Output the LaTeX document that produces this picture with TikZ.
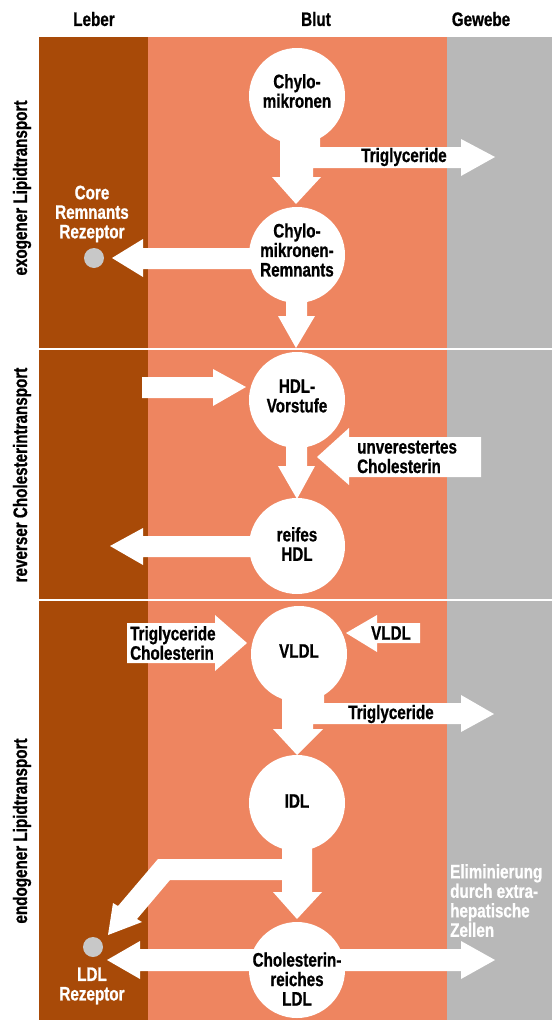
\documentclass[tikz,border=0pt]{standalone}
\usepackage{fontspec}
\setmainfont{Liberation Sans}[FakeStretch=0.78,FakeBold=0.8]
\definecolor{leber}{RGB}{168,74,8}
\definecolor{blut}{RGB}{238,133,96}
\definecolor{gewebe}{RGB}{184,184,184}
\definecolor{dotgray}{RGB}{200,200,200}
\tikzset{
  circ/.style={circle, fill=white, minimum size=96pt, inner sep=0pt},
  lbl/.style={text=black, align=center, inner sep=0pt},
  wlbl/.style={text=white, align=center, inner sep=0pt},
  blockarrow/.style={fill=white, draw=none},
  receptor/.style={circle, fill=dotgray, minimum size=20pt, inner sep=0pt},
  sepline/.style={white, line width=2pt}
}
\begin{document}
\begin{tikzpicture}[x=1pt, y=-1pt, font=\fontsize{19.5}{19.5}\selectfont\bfseries]
\useasboundingbox (0,0) rectangle (552,1020);
\fill[white] (0,0) rectangle (552,1020);
% columns
\fill[leber] (39,37) rectangle (148,1020);
\fill[blut] (148,37) rectangle (447,1020);
\fill[gewebe] (447,37) rectangle (552,1020);
\draw[sepline] (39,349) -- (552,349);
\draw[sepline] (39,600) -- (552,600);
% headers
\node[lbl] (hLeber) at (94,19) {Leber};
\node[lbl] (hBlut) at (316,19) {Blut};
\node[lbl] (hGewebe) at (481,19) {Gewebe};
% side labels
\node[lbl, rotate=90] (sExo) at (22,188) {exogener Lipidtransport};
\node[lbl, rotate=90] (sRev) at (22,475) {reverser Cholesterintransport};
\node[lbl, rotate=90] (sEndo) at (22,831) {endogener Lipidtransport};
% block arrows
\fill[blockarrow] (280,130) -- (320,130) -- (320,147) -- (461,147) -- (461,139) -- (495,157) -- (461,176) -- (461,168) -- (313,168) -- (313,177) -- (321,177) -- (296,204) -- (272,177) -- (280,177) -- cycle;
\fill[blockarrow] (286,290) -- (307,290) -- (307,316) -- (315,316) -- (296,348) -- (278,316) -- (286,316) -- cycle;
\fill[blockarrow] (260,248) -- (143,248) -- (143,239) -- (112,258) -- (143,277) -- (143,269) -- (260,269) -- cycle;
\fill[blockarrow] (142,377) -- (213,377) -- (213,369) -- (246,387) -- (213,406) -- (213,398) -- (142,398) -- cycle;
\fill[blockarrow] (286,440) -- (307,440) -- (307,466) -- (315,466) -- (297,499) -- (278,466) -- (286,466) -- cycle;
\fill[blockarrow] (481,437) -- (349,437) -- (349,428) -- (317,457) -- (349,485) -- (349,477) -- (481,477) -- cycle;
\fill[blockarrow] (260,536) -- (143,536) -- (143,528) -- (110,546) -- (143,565) -- (143,557) -- (260,557) -- cycle;
\fill[blockarrow] (127,623) -- (215,623) -- (215,615) -- (247,643) -- (215,671) -- (215,663) -- (127,663) -- cycle;
\fill[blockarrow] (420,623) -- (377,623) -- (377,615) -- (346,633) -- (377,652) -- (377,643) -- (420,643) -- cycle;
\fill[blockarrow] (282,690) -- (324,690) -- (324,703) -- (461,703) -- (461,695) -- (494,714) -- (461,732) -- (461,724) -- (313,724) -- (313,729) -- (323,729) -- (297,755) -- (273,729) -- (282,729) -- cycle;
\fill[blockarrow] (282,840) -- (312,840) -- (312,892) -- (322,892) -- (297,919) -- (273,892) -- (282,892) -- (282,880) -- (170,880) -- (137,919) -- (142,922) -- (108,935) -- (113,903) -- (118,906) -- (158,859) -- (282,859) -- cycle;
\fill[blockarrow] (140,949) -- (461,949) -- (461,941) -- (495,960) -- (461,979) -- (461,971) -- (140,971) -- (140,979) -- (107,960) -- (140,941) -- cycle;
% circles
\node[circ] (chylo) at (297,96) {};
\node[circ] (remn) at (297,255) {};
\node[circ] (hdlv) at (297,400) {};
\node[circ] (hdl) at (297,546) {};
\node[circ] (vldl) at (299,654) {};
\node[circ] (idl) at (297,803) {};
\node[circ] (ldl) at (297,970) {};
% circle texts
\node[lbl] (chyloT) at ([yshift=5pt]chylo.center) {Chylo-\\mikronen};
\node[lbl] (remnT) at ([yshift=5pt]remn.center) {Chylo-\\mikronen-\\Remnants};
\node[lbl] (hdlvT) at ([yshift=4pt]hdlv.center) {HDL-\\Vorstufe};
\node[lbl] (hdlT) at ([yshift=2pt]hdl.center) {reifes\\HDL};
\node[lbl] (vldlT) at ([yshift=3pt]vldl.center) {VLDL};
\node[lbl] (idlT) at ([yshift=2pt]idl.center) {IDL};
\node[lbl] (ldlT) at ([yshift=-9pt]ldl.center) {Cholesterin-\\reiches\\LDL};
% receptors
\node[receptor] (coreRez) at (94,258) {};
\node[receptor] (ldlRez) at (93,947) {};
% arrow labels
\node[lbl] (trig1) at (404,157) {Triglyceride};
\node[lbl] (trig2) at (391,714) {Triglyceride};
\node[lbl, anchor=west, align=left] (unver) at (357,457) {unverestertes\\Cholesterin};
\node[lbl, anchor=west, align=left] (tgchol) at (130,643) {Triglyceride\\Cholesterin};
\node[lbl] (vldlIn) at (391,633) {VLDL};
% white labels
\node[wlbl] (coreLbl) at (92,214) {Core\\Remnants\\Rezeptor};
\node[wlbl] (ldlLbl) at (92,986) {LDL\\Rezeptor};
\node[wlbl, anchor=north west, align=left] (elim) at (450,864) {Eliminierung\\durch extra-\\hepatische\\Zellen};
\end{tikzpicture}
\end{document}
